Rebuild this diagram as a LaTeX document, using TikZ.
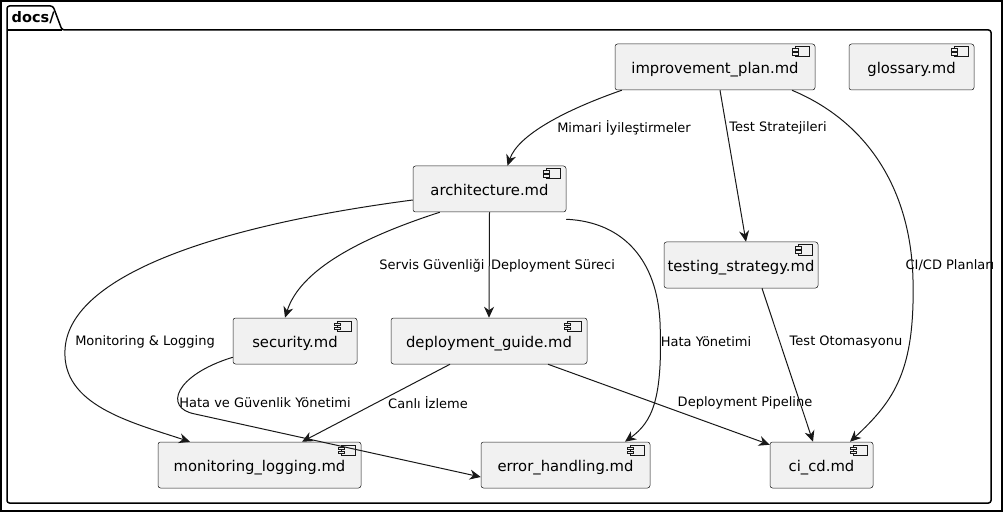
\documentclass[tikz,border=0pt]{standalone}
\usepackage{fontspec}
\setmainfont{DejaVu Sans}
\usetikzlibrary{arrows.meta,calc}
\definecolor{compfill}{HTML}{F1F1F1}
\definecolor{umlline}{HTML}{181818}

\begin{document}
\begin{tikzpicture}[x=1pt,y=-1pt,
    comp/.style={draw=umlline,line width=0.5pt,fill=compfill,rounded corners=2.5pt,
      minimum height=46pt,inner sep=0pt,text height=16pt,text depth=3pt,
      font=\fontsize{14.8pt}{17pt}\selectfont},
    lab/.style={font=\fontsize{13pt}{15pt}\selectfont,inner sep=0pt,text=black},
    a/.style={-{Stealth[length=11pt,width=10pt,inset=3.5pt]},line width=1pt,umlline}]
    \useasboundingbox (0,0) rectangle (1004,513);
    \draw[line width=1.6pt] (1,1) rectangle (1002,511);
    % package frame
    \draw[line width=1.5pt,rounded corners=2.5pt]
      (7,30) -- (7,6) -- (53,6) -- (62,30) -- (991,30) -- (991,503) -- (7,503) -- cycle;
    \draw[line width=1.5pt] (7,30) -- (62,30);
    \node[anchor=west,inner sep=0pt,font=\fontsize{14.5pt}{17pt}\selectfont\bfseries] (pkg) at (11.5,18) {docs/};

    \node[comp,minimum width=200pt] (impr) at (715,67) {improvement\_plan.md};
    \node[comp,minimum width=125pt] (gloss) at (911.5,67) {glossary.md};
    \node[comp,minimum width=153pt] (arch) at (489.5,189) {architecture.md};
    \node[comp,minimum width=154pt] (test) at (741,265) {testing\_strategy.md};
    \node[comp,minimum width=124pt] (sec) at (295,341) {security.md};
    \node[comp,minimum width=196pt] (deploy) at (489,341) {deployment\_guide.md};
    \node[comp,minimum width=203pt] (mon) at (259.5,465) {monitoring\_logging.md};
    \node[comp,minimum width=169pt] (err) at (565.5,465) {error\_handling.md};
    \node[comp,minimum width=103pt] (cicd) at (821.5,465) {ci\_cd.md};

    % component icons
    \foreach \n in {impr,gloss,arch,test,sec,deploy,mon,err,cicd} {
      \draw[umlline,line width=0.5pt,fill=compfill] ([shift={(-20,3)}]\n.north east) rectangle +(14,10);
      \draw[umlline,line width=0.5pt,fill=compfill] ([shift={(-23,5)}]\n.north east) rectangle +(6,2.5);
      \draw[umlline,line width=0.5pt,fill=compfill] ([shift={(-23,9)}]\n.north east) rectangle +(6,2.5);
    }

    \draw[a] ([xshift=7pt]impr.south west) .. controls (565,110) and (518,135) .. ([xshift=18pt]arch.north)
      node[lab] at (624,128) {Mimari İyileştirmeler};
    \draw[a] ([xshift=5pt]impr.south) -- ([xshift=5pt]test.north)
      node[lab] at (778,128) {Test Stratejileri};
    \draw[a] ([xshift=77pt]impr.south) .. controls (868,122) and (911,190) .. (913,280)
      .. controls (915,370) and (895,400) .. ([xshift=28.5pt]cicd.north)
      node[lab] at (950,265) {CI/CD Planları};
    \draw[a] ([xshift=27pt]arch.south west) .. controls (360,238) and (300,270) .. ([xshift=-10pt]sec.north)
      node[lab] at (432,266) {Servis Güvenliği};
    \draw[a] (arch.south) -- (deploy.north)
      node[lab] at (553,266) {Deployment Süreci};
    \draw[a] ([yshift=-7pt]arch.south east) .. controls (625,222) and (657,262) .. (660,322)
      .. controls (663,400) and (652,422) .. ([xshift=59.5pt]err.north)
      node[lab] at (706,342) {Hata Yönetimi};
    \draw[a] ([yshift=-11pt]arch.west) .. controls (200,228) and (68,280) .. (65,350)
      .. controls (62,405) and (130,422) .. ([xshift=-69.5pt]mon.north)
      node[lab] at (145,342) {Monitoring \& Logging};
    \draw[a] ([xshift=21pt]test.south) -- ([xshift=-8.5pt]cicd.north)
      node[lab] at (846,342) {Test Otomasyonu};
    \draw[a] ([yshift=7pt]sec.south west) .. controls (175,375) and (163,408) .. (195,414)
      -- ([yshift=-12pt]err.west)
      node[lab] at (265,403) {Hata ve Güvenlik Yönetimi};
    \draw[a] ([xshift=-39pt]deploy.south) -- ([xshift=42.5pt]mon.north)
      node[lab] at (428,403) {Canlı İzleme};
    \draw[a] ([xshift=59pt]deploy.south) -- ([yshift=-3pt]cicd.north west)
      node[lab] at (745,403) {Deployment Pipeline};
  \end{tikzpicture}
\end{document}
